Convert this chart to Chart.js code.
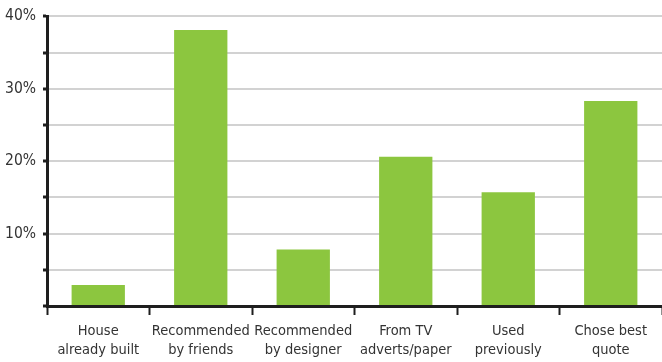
<!DOCTYPE html>
<html>
<head>
<meta charset="utf-8">
<script src="https://cdn.jsdelivr.net/npm/chart.js@4/dist/chart.umd.min.js"></script>
<style>
  html, body { margin: 0; padding: 0; background: #fff; }
  #wrap { width: 662px; height: 362px; }
</style>
</head>
<body>
<div id="wrap"><canvas id="mainChart"></canvas></div>
<script>
// categories and values
const categories = [
  ["House", "already built"],
  ["Recommended", "by friends"],
  ["Recommended", "by designer"],
  ["From TV", "adverts/paper"],
  ["Used", "previously"],
  ["Chose best", "quote"]
];
const shares = [2.9, 38.1, 7.8, 20.6, 15.7, 28.3];
const yTickLabels = { 10: "10%", 20: "20%", 30: "30%", 40: "40%" };

const fontFamily = "'Liberation Sans Narrow', 'DejaVu Sans Condensed', 'Liberation Sans', sans-serif";
const axisColor = "#1e1e1e";

const ctx = document.getElementById("mainChart").getContext("2d");
const chart = new Chart(ctx, {
  type: "bar",
  data: {
    labels: categories,
    datasets: [{
      data: shares,
      backgroundColor: "#8cc63f",
      barPercentage: 0.52,
      categoryPercentage: 1
    }]
  },
  options: {
    responsive: true,
    maintainAspectRatio: false,
    animation: false,
    layout: { padding: { top: 14, right: -3, left: 0, bottom: 0 } },
    plugins: {
      legend: { display: false },
      tooltip: { enabled: false }
    },
    scales: {
      x: {
        border: { display: true, color: axisColor, width: 3 },
        grid: {
          display: true,
          drawOnChartArea: false,
          offset: true,
          tickLength: 9,
          tickColor: axisColor,
          tickWidth: 2
        },
        ticks: {
          color: "#333",
          font: { family: fontFamily, size: 14.5, lineHeight: 1.3 },
          padding: 7,
          maxRotation: 0,
          autoSkip: false
        },
        afterFit: (scale) => { scale.height = 56; }
      },
      y: {
        min: 0,
        max: 40,
        border: { display: true, color: axisColor, width: 3 },
        grid: {
          color: (c) => (c.tick && c.tick.value === 0 ? "rgba(0,0,0,0)" : "#d2d2d2"),
          lineWidth: 2,
          tickLength: 4,
          tickColor: axisColor,
          tickWidth: 3
        },
        ticks: {
          stepSize: 5,
          color: "#333",
          font: { family: fontFamily, size: 15.5 },
          padding: 7,
          callback: (v) => yTickLabels[v] || ""
        },
        afterFit: (scale) => { scale.width = 47; }
      }
    }
  }
});
</script>
</body>
</html>
